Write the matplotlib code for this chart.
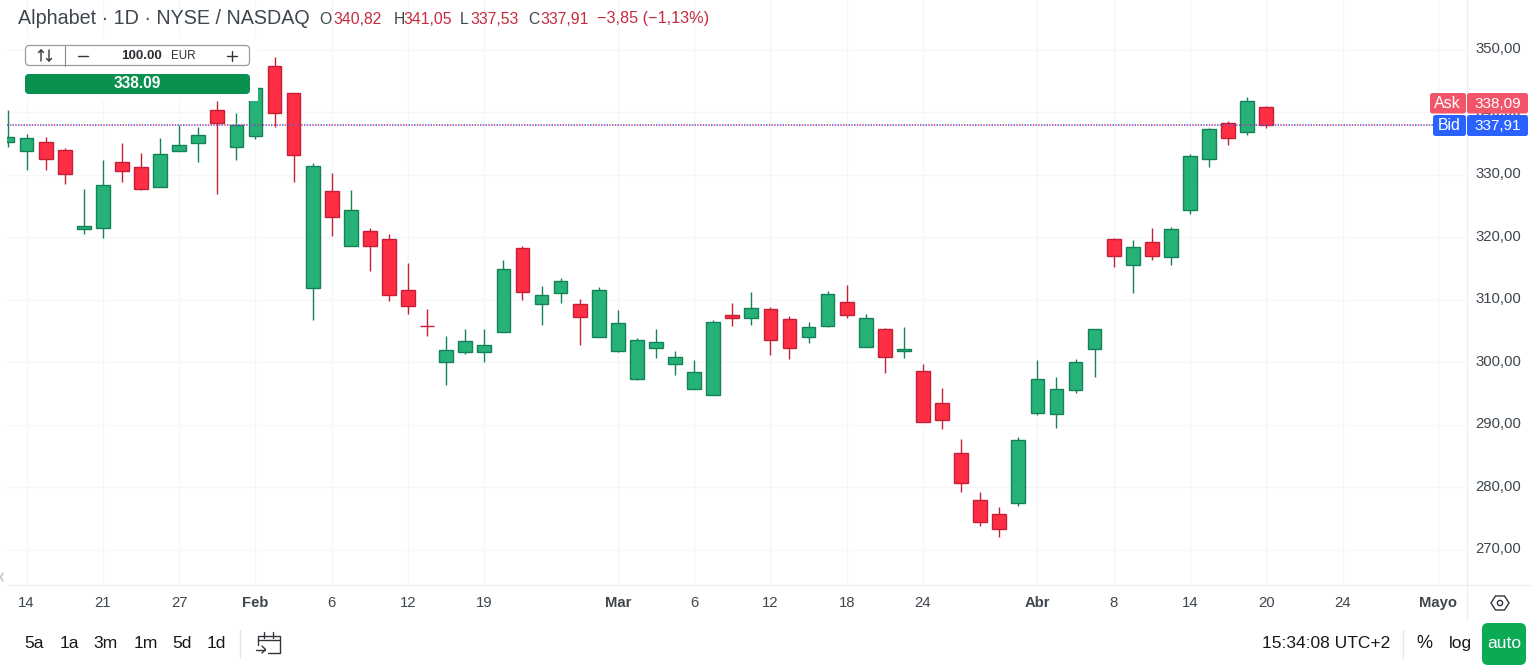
import numpy as np
import matplotlib
matplotlib.use("Agg")
import matplotlib.pyplot as plt
from matplotlib.patches import FancyBboxPatch, Rectangle, Circle, Polygon
from matplotlib.transforms import ScaledTranslation

plt.rcParams['font.family'] = ['Liberation Sans', 'DejaVu Sans']

W, H = 1533, 672

# candles, from left to right, first one is cut by the chart edge
opens = [335.20, 333.76, 335.20, 333.92, 321.28, 321.44, 332.00, 331.20, 328.00, 333.76, 335.04, 340.32, 334.40,
         336.16, 347.36, 343.04, 311.95, 327.47, 318.56, 320.96, 319.68, 311.52, 305.76, 300.00, 301.60, 301.60,
         304.80, 318.24, 309.28, 311.04, 309.36, 304.08, 301.79, 297.36, 302.27, 299.71, 295.71, 294.75, 307.60,
         307.07, 308.56, 306.96, 304.08, 305.79, 309.68, 302.43, 305.36, 301.79, 298.56, 293.44, 285.44, 277.92,
         275.68, 277.44, 291.95, 291.79, 295.63, 302.19, 319.68, 315.63, 319.20, 316.91, 324.32, 332.59, 338.24,
         336.91, 340.82]
closes = [336.00, 335.84, 332.48, 330.08, 321.76, 328.32, 330.56, 327.79, 333.28, 334.72, 336.32, 338.35, 337.92,
          343.84, 339.84, 333.12, 331.36, 323.20, 324.32, 318.67, 310.83, 309.07, 305.76, 301.92, 303.36, 302.72,
          314.88, 311.31, 310.72, 312.96, 307.28, 311.60, 306.32, 303.60, 303.28, 300.88, 298.48, 306.48, 307.07,
          308.72, 303.55, 302.27, 305.68, 310.96, 307.55, 307.12, 300.83, 302.16, 290.40, 290.72, 280.75, 274.51,
          273.39, 287.52, 297.28, 295.68, 300.00, 305.28, 317.07, 318.40, 317.07, 321.28, 332.96, 337.28, 335.95,
          341.76, 337.91]
highs = [340.40, 336.53, 336.05, 334.29, 327.73, 332.37, 335.09, 333.49, 335.89, 337.97, 337.71, 341.81, 339.89,
         344.20, 348.85, 343.04, 331.89, 330.29, 327.57, 321.49, 320.53, 315.89, 308.53, 304.21, 305.33, 305.33,
         316.37, 318.61, 312.21, 313.49, 310.21, 312.13, 308.45, 303.92, 305.41, 301.89, 300.45, 306.85, 309.57,
         311.33, 308.88, 307.44, 306.53, 311.49, 312.45, 307.81, 305.57, 305.73, 299.73, 295.89, 287.73, 279.25,
         276.85, 288.05, 300.37, 297.65, 300.53, 305.28, 319.89, 319.57, 321.49, 321.65, 333.33, 337.49, 338.56,
         342.45, 341.05]
lows = [334.50, 330.77, 330.77, 328.53, 320.53, 319.95, 328.85, 327.63, 328.00, 333.76, 332.05, 326.93, 332.37,
        335.78, 337.70, 328.90, 306.77, 320.21, 318.56, 314.61, 309.81, 307.73, 304.21, 296.37, 301.33, 300.05,
        304.80, 309.97, 305.97, 309.49, 302.85, 304.08, 301.63, 297.15, 300.77, 298.05, 295.71, 294.75, 305.89,
        306.05, 301.25, 300.61, 303.17, 305.63, 307.17, 302.43, 298.37, 300.69, 290.40, 289.39, 279.25, 273.81,
        272.05, 277.01, 291.57, 289.49, 295.09, 297.65, 315.25, 311.09, 316.37, 315.57, 323.73, 331.25, 334.77,
        336.37, 337.53]

# bar number of each date label, bar 0 is the "14"
tick_bars = [0, 4, 8, 12, 16, 20, 24, 31, 35, 39, 43, 47, 53, 57, 61, 65, 69, 74]
tick_labels = ['14', '21', '27', 'Feb', '6', '12', '19', 'Mar', '6', '12', '18', '24', 'Abr', '8', '14', '20', '24', 'Mayo']
month_labels = ['Feb', 'Mar', 'Abr', 'Mayo']
price_ticks = [270, 280, 290, 300, 310, 320, 330, 340, 350]
ask = 338.09
bid = 337.91

green_fill, green_edge = '#26b276', '#148259'
red_fill, red_edge = '#fe2e44', '#c62038'
grid_col = '#f5f6f7'
text_col = '#3e464e'

fig = plt.figure(figsize=(W / 100, H / 100), dpi=100, facecolor='white')

# price chart
ax = fig.add_axes([7 / W, 1 - 585 / H, (1466.5 - 7) / W, 585 / H])
ax.set_xlim(-1.028, 75.5)
ax.set_ylim(264.37, 357.97)
ax.set_axisbelow(True)
ax.grid(True, color=grid_col, lw=0.9)
for s in ['left', 'top']:
    ax.spines[s].set_visible(False)
for s in ['right', 'bottom']:
    ax.spines[s].set_color('#eeeff1')
    ax.spines[s].set_linewidth(0.9)

ax.yaxis.tick_right()
ax.set_yticks(price_ticks)
ax.set_yticklabels([f'{p:.2f}'.replace('.', ',') for p in price_ticks])
ax.set_xticks(tick_bars)
ax.set_xticklabels(tick_labels)
ax.tick_params(length=0, labelcolor=text_col, labelsize=10.7)
ax.tick_params(axis='y', pad=6.6)
ax.tick_params(axis='x', pad=8.2)
for lab in ax.get_xticklabels():
    if lab.get_text() in month_labels:
        lab.set_fontweight('bold')
# price labels sit a little above their grid line
lift = ScaledTranslation(0, 2 / 100, fig.dpi_scale_trans)
for lab in ax.get_yticklabels():
    lab.set_transform(lab.get_transform() + lift)

for i in range(len(opens)):
    up = closes[i] > opens[i]
    edge = green_edge if up else red_edge
    fill = green_fill if up else red_fill
    ax.vlines(i - 1, lows[i], highs[i], color=edge, lw=1.0, zorder=2)
    ax.bar(i - 1, abs(closes[i] - opens[i]), bottom=min(opens[i], closes[i]), width=0.72,
           facecolor=fill, edgecolor=edge, linewidth=1.0, zorder=3)

# bid and ask lines are almost on top of each other
ax.plot([-1.028, 75], [bid, bid], color='#2962ff', lw=1.1, ls=(0, (1.0, 2.6)), zorder=4)
ax.plot([-1.028, 75], [bid, bid], color='#f23645', lw=1.1, ls=(1.8, (1.0, 2.6)), zorder=4)

# interface parts, in pixels of the picture
ui = fig.add_axes([0, 0, 1, 1], zorder=5)
ui.set_xlim(0, W)
ui.set_ylim(H, 0)
ui.axis('off')
ui.patch.set_alpha(0)


def box(x0, y0, x1, y1, fc, ec='none', r=3, lw=0.9, z=2):
    ui.add_patch(FancyBboxPatch((x0 + r, y0 + r), x1 - x0 - 2 * r, y1 - y0 - 2 * r,
                                boxstyle=f'round,pad={r},rounding_size={r}', fc=fc, ec=ec, lw=lw, zorder=z))


def line(xs, ys, c='#30363c', lw=1.0):
    ui.plot(xs, ys, color=c, lw=lw, solid_capstyle='round', zorder=4)


# header
ui.text(18, 19, 'Alphabet · 1D · NYSE / NASDAQ', fontsize=14.2, color=text_col, va='center')
x_items = [(319, 'O', text_col, 11.3), (333, '340,82', '#c62b3c', 11.3), (393.5, 'H', text_col, 11.3),
           (403, '341,05', '#c62b3c', 11.3), (460, 'L', text_col, 11.3), (470, '337,53', '#c62b3c', 11.3),
           (528, 'C', text_col, 11.3), (540, '337,91', '#c62b3c', 11.3), (597, '−3,85 (−1,13%)', '#c62b3c', 11.7)]
for x, s, c, fs in x_items:
    ui.text(x, 19, s, fontsize=fs, color=c, va='center')

# order widget, covers the chart under it
ui.add_patch(Rectangle((25, 38), 233, 63, fc='white', ec='none', zorder=1))
box(25.5, 45.5, 249.5, 65.5, 'white', '#9b9b9b', r=4)
line([64.5, 64.5], [45.5, 65.5], '#8a8a8a', 0.8)
line([41, 41, 38.5], [61, 50, 52.5])
line([41, 43.5], [50, 52.5])
line([49, 49, 46.5], [50, 61, 58.5])
line([49, 51.5], [61, 58.5])
line([78, 88], [55.5, 55.5])
line([227, 237], [55.5, 55.5])
line([232, 232], [50.5, 60.5])
ui.text(162, 56, '100.00', fontsize=9.7, fontweight='bold', color='#2a2e33', ha='right', va='center')
ui.text(170.5, 56, 'EUR', fontsize=8.4, color='#2a2e33', va='center')
box(25, 74, 250, 94, '#0b914f', r=4)
ui.text(137.5, 84, '338.09', fontsize=11.2, fontweight='bold', color='white', ha='center', va='center', zorder=5)

# ask and bid tags
box(1430, 93, 1466, 113.5, '#f2556a', r=2.5)
box(1467, 93, 1528, 113.5, '#f2556a', r=2.5)
box(1433, 115, 1466, 136, '#2962ff', r=2.5)
box(1467, 115, 1528, 136, '#2962ff', r=2.5)
ui.text(1447.5, 103.5, 'Ask', fontsize=11.4, color='white', ha='center', va='center', zorder=5)
ui.text(1521, 103.5, f'{ask:.2f}'.replace('.', ','), fontsize=11, color='white', ha='right', va='center', zorder=5)
ui.text(1449.5, 125.5, 'Bid', fontsize=11.4, color='white', ha='center', va='center', zorder=5)
ui.text(1521, 125.5, f'{bid:.2f}'.replace('.', ','), fontsize=11, color='white', ha='right', va='center', zorder=5)

# axis corner
line([1466.5, 1466.5], [585, 620], '#eeeff1', 0.9)
line([1466.5, 1533], [585.3, 585.3], '#eeeff1', 0.9)
ui.add_patch(Polygon([(1491, 603), (1495.5, 596), (1504.5, 596), (1509, 603), (1504.5, 610), (1495.5, 610)],
                     fc='none', ec='#30363c', lw=1.0, zorder=4))
ui.add_patch(Circle((1500, 603), 2.6, fc='none', ec='#30363c', lw=1.0, zorder=4))
line([3, 0.5, 3], [573, 577, 581], '#b8bcc2', 1.0)

# bottom bar
for x, s in [(34.5, '5a'), (69, '1a'), (106, '3m'), (145.5, '1m'), (181.5, '5d'), (216.5, '1d')]:
    ui.text(x, 643.5, s, fontsize=12.6, color='#15181c', ha='center', va='center')
line([239.5, 239.5], [630, 658], '#e2e4e7', 0.9)
line([262, 257.5, 257.5], [635.5, 635.5, 645], '#30363c', 1.0)
line([257.5, 279.5], [640, 640], '#30363c', 1.0)
line([262, 275, 279.5, 279.5, 268], [635.5, 635.5, 635.5, 653, 653], '#30363c', 1.0)
line([264, 264], [632, 638], '#30363c', 1.0)
line([273, 273], [632, 638], '#30363c', 1.0)
line([256, 265], [649.5, 649.5], '#30363c', 1.0)
line([262, 265.5, 262], [646, 649.5, 653], '#30363c', 1.0)

ui.text(1390, 643.5, '15:34:08 UTC+2', fontsize=12.5, color='#15181c', ha='right', va='center')
line([1402.5, 1402.5], [630, 658], '#e2e4e7', 0.9)
ui.text(1424.5, 643.5, '%', fontsize=13, color='#15181c', ha='center', va='center')
ui.text(1460, 643.5, 'log', fontsize=12.6, color='#15181c', ha='center', va='center')
box(1482, 623, 1526, 665, '#0bab56', r=6)
ui.text(1504, 643.5, 'auto', fontsize=12.6, color='white', ha='center', va='center', zorder=5)

fig.savefig('out.png', dpi=100)
